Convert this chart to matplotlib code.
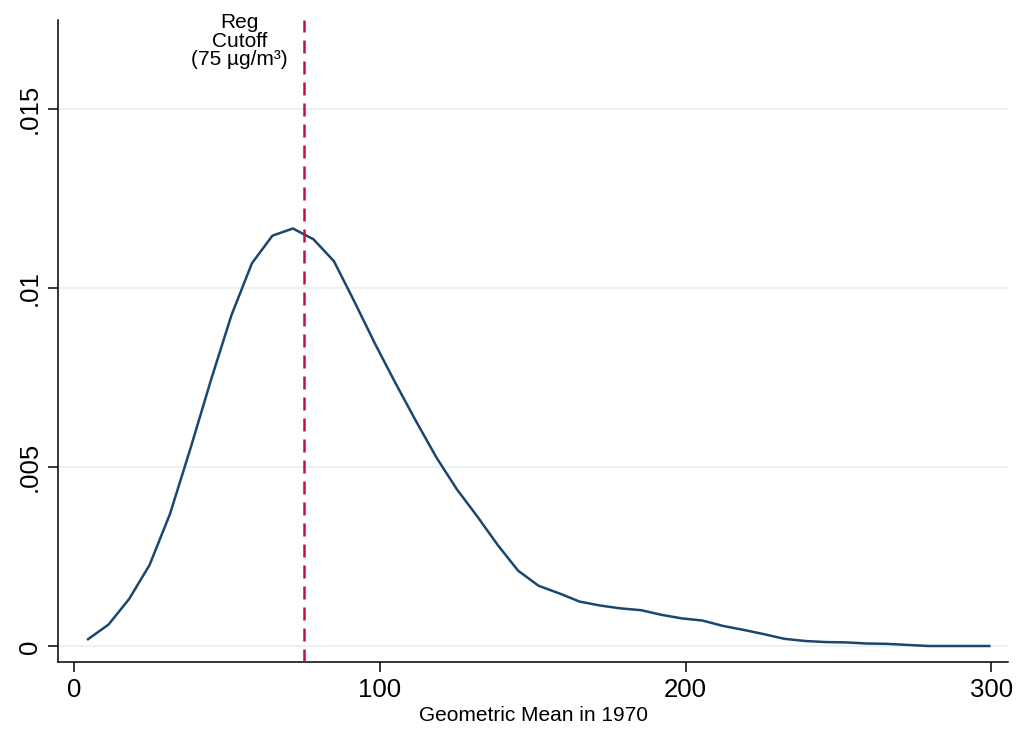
import numpy as np
import matplotlib.pyplot as plt

plt.rcParams['font.family'] = ['Liberation Sans', 'DejaVu Sans']

# kernel density evaluation points (geometric mean in 1970)
grid_x = [4.5, 11.2, 17.9, 24.6, 31.3, 38.0, 44.7, 51.4, 58.1, 64.8,
          71.5, 78.2, 84.9, 91.6, 98.3, 105.0, 111.7, 118.4, 125.1, 131.8,
          138.5, 145.2, 151.9, 158.6, 165.3, 172.0, 178.7, 185.4, 192.1, 198.8,
          205.5, 212.2, 218.9, 225.6, 232.3, 239.0, 245.7, 252.4, 259.1, 265.8,
          272.5, 279.2, 285.9, 292.6, 299.3]
# density values, in thousandths
density = [0.20, 0.61, 1.32, 2.27, 3.70, 5.53, 7.44, 9.25, 10.70, 11.47,
           11.67, 11.37, 10.76, 9.63, 8.46, 7.36, 6.30, 5.28, 4.39, 3.63,
           2.83, 2.11, 1.69, 1.48, 1.25, 1.14, 1.06, 1.01, 0.88, 0.78,
           0.72, 0.57, 0.46, 0.34, 0.21, 0.15, 0.12, 0.11, 0.08, 0.07,
           0.04, 0.01, 0.01, 0.01, 0.01]
cutoff = 75
xticks = [0, 100, 200, 300]
yticks = [0, 0.005, 0.01, 0.015]
ytick_labels = ['0', '.005', '.01', '.015']

fig = plt.figure(figsize=(10.2, 7.34), dpi=100)
ax = fig.add_axes([0.0569, 0.098, 0.9313, 0.8748])

for yt in yticks:
    ax.axhline(yt, color='#eaf2f3', lw=1.5, zorder=0)

ax.plot(grid_x, np.array(density) / 1000, color='#1a476f', lw=1.8, zorder=3)
ax.axvline(cutoff, color='#c8103c', lw=1.8, linestyle=(0, (5.2, 3.2)), zorder=4)

ax.text(54.0, 0.01612, 'Reg\nCutoff\n(75 \u00b5g/m\u00b3)', ha='center', va='bottom',
        multialignment='center', fontsize=15, linespacing=0.96, clip_on=False)

ax.set_xlim(-5.33, 305.4)
ax.set_ylim(-0.000439, 0.017494)
ax.set_xticks(xticks)
ax.set_xticklabels([str(t) for t in xticks])
ax.set_yticks(yticks)
ax.set_yticklabels(ytick_labels, rotation=90, va='center')
ax.tick_params(axis='both', labelsize=18.5, length=7.5, width=1.1, direction='out', pad=4)
ax.set_xlabel('Geometric Mean in 1970', fontsize=15, labelpad=3)

for s in ['top', 'right']:
    ax.spines[s].set_visible(False)
for s in ['left', 'bottom']:
    ax.spines[s].set_linewidth(1.1)

fig.savefig('out.png', dpi=100)
